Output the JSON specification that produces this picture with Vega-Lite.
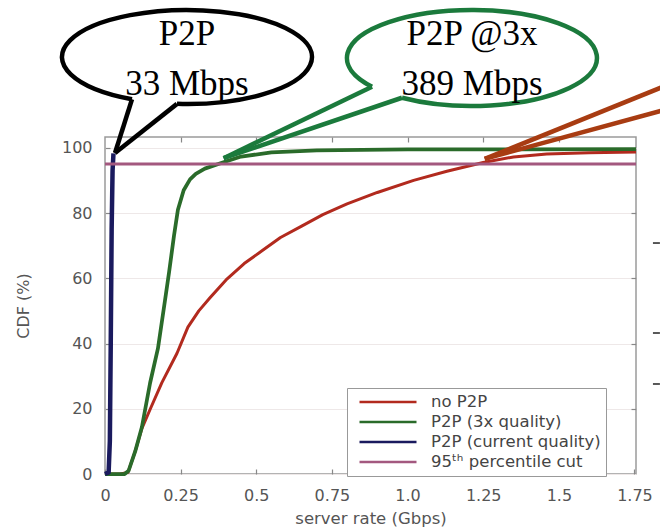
{
  "$schema": "https://vega.github.io/schema/vega-lite/v6.json",
  "width": 531,
  "height": 337,
  "autosize": {"type": "none"},
  "padding": {"left": 105, "top": 137, "right": 24, "bottom": 56},
  "background": "white",
  "config": {
    "view": {"stroke": "#9a9a9a", "strokeWidth": 1.5},
    "axis": {"labelFont": "DejaVu Sans", "titleFont": "DejaVu Sans", "labelColor": "#555", "titleColor": "#555", "labelFontSize": 16, "titleFontSize": 16, "titleFontWeight": "normal", "tickColor": "#888", "tickWidth": 1.2, "tickSize": -5, "labelPadding": 18, "domain": false},
    "legend": {"orient": "none", "legendX": 242, "legendY": 251, "symbolType": "M -0.2 0 L 7.4 0", "symbolSize": 225, "symbolStrokeWidth": 2.5, "labelFont": "DejaVu Sans", "labelFontSize": 16.5, "labelColor": "#444", "strokeColor": "#999", "fillColor": "white", "padding": 5, "rowPadding": 2, "labelOffset": 61, "labelLimit": 400}
  },
  "datasets": {
    "cdf": [
      {"series": "no P2P", "x": 0, "y": 0}, {"series": "no P2P", "x": 0.05, "y": 0}, {"series": "no P2P", "x": 0.076, "y": 0.5}, {"series": "no P2P", "x": 0.1, "y": 7}, {"series": "no P2P", "x": 0.122, "y": 14}, {"series": "no P2P", "x": 0.15, "y": 20}, {"series": "no P2P", "x": 0.188, "y": 28}, {"series": "no P2P", "x": 0.238, "y": 37}, {"series": "no P2P", "x": 0.274, "y": 45}, {"series": "no P2P", "x": 0.31, "y": 50}, {"series": "no P2P", "x": 0.347, "y": 54}, {"series": "no P2P", "x": 0.4, "y": 59.5}, {"series": "no P2P", "x": 0.46, "y": 64.5}, {"series": "no P2P", "x": 0.52, "y": 68.5}, {"series": "no P2P", "x": 0.58, "y": 72.5}, {"series": "no P2P", "x": 0.65, "y": 76}, {"series": "no P2P", "x": 0.72, "y": 79.5}, {"series": "no P2P", "x": 0.8, "y": 82.8}, {"series": "no P2P", "x": 0.9, "y": 86.3}, {"series": "no P2P", "x": 1.02, "y": 90}, {"series": "no P2P", "x": 1.13, "y": 92.8}, {"series": "no P2P", "x": 1.25, "y": 95.5}, {"series": "no P2P", "x": 1.35, "y": 97.2}, {"series": "no P2P", "x": 1.46, "y": 98.1}, {"series": "no P2P", "x": 1.6, "y": 98.5}, {"series": "no P2P", "x": 1.755, "y": 98.7},
      {"series": "P2P (3x quality)", "x": 0, "y": 0}, {"series": "P2P (3x quality)", "x": 0.065, "y": 0}, {"series": "P2P (3x quality)", "x": 0.078, "y": 1}, {"series": "P2P (3x quality)", "x": 0.1, "y": 7}, {"series": "P2P (3x quality)", "x": 0.122, "y": 14.4}, {"series": "P2P (3x quality)", "x": 0.149, "y": 27.9}, {"series": "P2P (3x quality)", "x": 0.175, "y": 38.5}, {"series": "P2P (3x quality)", "x": 0.198, "y": 53}, {"series": "P2P (3x quality)", "x": 0.212, "y": 62}, {"series": "P2P (3x quality)", "x": 0.228, "y": 73}, {"series": "P2P (3x quality)", "x": 0.241, "y": 81}, {"series": "P2P (3x quality)", "x": 0.26, "y": 87}, {"series": "P2P (3x quality)", "x": 0.281, "y": 90.3}, {"series": "P2P (3x quality)", "x": 0.3, "y": 92}, {"series": "P2P (3x quality)", "x": 0.33, "y": 93.6}, {"series": "P2P (3x quality)", "x": 0.389, "y": 95.5}, {"series": "P2P (3x quality)", "x": 0.45, "y": 97.3}, {"series": "P2P (3x quality)", "x": 0.55, "y": 98.6}, {"series": "P2P (3x quality)", "x": 0.7, "y": 99.2}, {"series": "P2P (3x quality)", "x": 1.0, "y": 99.5}, {"series": "P2P (3x quality)", "x": 1.755, "y": 99.6},
      {"series": "P2P (current quality)", "x": 0, "y": 0}, {"series": "P2P (current quality)", "x": 0.012, "y": 0.5}, {"series": "P2P (current quality)", "x": 0.016, "y": 10}, {"series": "P2P (current quality)", "x": 0.019, "y": 40}, {"series": "P2P (current quality)", "x": 0.022, "y": 75}, {"series": "P2P (current quality)", "x": 0.025, "y": 93}, {"series": "P2P (current quality)", "x": 0.028, "y": 98.3}
    ],
    "tails": [
      {"callout": "current", "x": 0.0331, "y": 98.4, "x2": 0.08924, "y2": 114.87},
      {"callout": "current", "x": 0.0331, "y": 98.4, "x2": 0.23797, "y2": 113.45},
      {"callout": "3x", "x": 0.392, "y": 96.8, "x2": 0.8825, "y2": 118.69},
      {"callout": "3x", "x": 0.392, "y": 96.8, "x2": 0.9816, "y2": 115.33},
      {"callout": "none", "x": 1.255, "y": 96.6, "x2": 1.9, "y2": 120.77},
      {"callout": "none", "x": 1.255, "y": 96.6, "x2": 1.9, "y2": 112.9}
    ],
    "bubbles": [
      {"callout": "current", "x": 0.27102, "y": 127.82},
      {"callout": "3x", "x": 1.213, "y": 127.52}
    ],
    "labels": [
      {"text": "P2P", "x": 0.27102, "y": 131.5},
      {"text": "33 Mbps", "x": 0.27102, "y": 116.17},
      {"text": "P2P @3x", "x": 1.213, "y": 131.5},
      {"text": "389 Mbps", "x": 1.213, "y": 116.17}
    ],
    "stray": [
      {"x": 1.811, "x2": 1.834, "y": 70.8},
      {"x": 1.811, "x2": 1.834, "y": 43.22},
      {"x": 1.811, "x2": 1.834, "y": 27.59}
    ],
    "cut": [{"percentile": 95}]
  },
  "resolve": {"axis": {"x": "independent", "y": "independent"}},
  "layer": [
    {
      "data": {"name": "cdf"},
      "mark": {"type": "line", "strokeJoin": "round"},
      "encoding": {
        "x": {"field": "x", "type": "quantitative", "scale": {"domain": [0, 1.755], "nice": false, "zero": false},
              "axis": {"orient": "bottom", "values": [0, 0.25, 0.5, 0.75, 1, 1.25, 1.5, 1.75], "labelExpr": "datum.value == 1 ? '1.0' : format(datum.value, '~g')", "title": "server rate (Gbps)", "titleFontSize": 16.5, "titleBaseline": "alphabetic", "titleY": 49, "grid": false, "labelFlush": false}},
        "y": {"field": "y", "type": "quantitative", "scale": {"domain": [0, 103.3], "nice": false, "zero": false},
              "axis": {"orient": "left", "values": [0, 20, 40, 60, 80, 100], "title": "CDF (%)", "titleX": -82, "titleBaseline": "middle", "grid": true, "gridColor": "#eee8e8", "gridWidth": 1.2}},
        "color": {"field": "series", "type": "nominal",
                  "scale": {"domain": ["no P2P", "P2P (3x quality)", "P2P (current quality)", "95ᵗʰ percentile cut"], "range": ["#b22a1e", "#2a6b2a", "#1a1a5e", "#a3587f"]},
                  "legend": {"title": null}},
        "strokeWidth": {"field": "series", "type": "ordinal", "scale": {"domain": ["no P2P", "P2P (3x quality)", "P2P (current quality)"], "range": [3, 4.5, 7]}, "legend": null}
      }
    },
    {
      "data": {"name": "cut"},
      "mark": {"type": "rule", "strokeWidth": 3},
      "encoding": {
        "y": {"field": "percentile", "type": "quantitative", "scale": {"domain": [0, 103.3], "nice": false, "zero": false}, "axis": null},
        "color": {"datum": "95ᵗʰ percentile cut"}
      }
    },
    {
      "data": {"name": "tails"},
      "mark": {"type": "rule", "strokeWidth": 4.5},
      "encoding": {
        "x": {"field": "x", "type": "quantitative", "scale": {"domain": [0, 1.755], "nice": false, "zero": false}, "axis": null},
        "y": {"field": "y", "type": "quantitative", "scale": {"domain": [0, 103.3], "nice": false, "zero": false}, "axis": null},
        "x2": {"field": "x2"},
        "y2": {"field": "y2"},
        "stroke": {"field": "callout", "type": "nominal", "scale": {"domain": ["current", "3x", "none"], "range": ["#000000", "#1b7a3c", "#a83c12"]}, "legend": null}
      }
    },
    {
      "data": {"name": "bubbles"},
      "mark": {"type": "point", "filled": false, "size": 62500, "strokeWidth": 4.5, "opacity": 1},
      "encoding": {
        "x": {"field": "x", "type": "quantitative", "scale": {"domain": [0, 1.755], "nice": false, "zero": false}, "axis": null},
        "y": {"field": "y", "type": "quantitative", "scale": {"domain": [0, 103.3], "nice": false, "zero": false}, "axis": null},
        "shape": {"field": "callout", "type": "nominal", "scale": {"domain": ["current", "3x"], "range": ["M -0.08 0.3748 A 1 0.376 0 1 0 -0.44 0.3377", "M -0.56 0.318 A 1 0.384 0 1 0 -0.8 0.2304"]}, "legend": null},
        "stroke": {"field": "callout", "type": "nominal", "legend": null}
      }
    },
    {
      "data": {"name": "labels"},
      "mark": {"type": "text", "font": "Liberation Serif", "fontSize": 35, "color": "#000000", "align": "center", "baseline": "alphabetic"},
      "encoding": {
        "x": {"field": "x", "type": "quantitative", "scale": {"domain": [0, 1.755], "nice": false, "zero": false}, "axis": null},
        "y": {"field": "y", "type": "quantitative", "scale": {"domain": [0, 103.3], "nice": false, "zero": false}, "axis": null},
        "text": {"field": "text"}
      }
    },
    {
      "data": {"name": "stray"},
      "mark": {"type": "rule", "strokeWidth": 1.5, "color": "#222"},
      "encoding": {
        "x": {"field": "x", "type": "quantitative", "scale": {"domain": [0, 1.755], "nice": false, "zero": false},
              "axis": {"orient": "top", "values": [0.25, 0.5, 0.75, 1, 1.25, 1.5], "labels": false, "grid": false, "title": null}},
        "y": {"field": "y", "type": "quantitative", "scale": {"domain": [0, 103.3], "nice": false, "zero": false},
              "axis": {"orient": "right", "values": [20, 40, 60, 80], "labels": false, "grid": false, "title": null}},
        "x2": {"field": "x2"}
      }
    }
  ]
}
